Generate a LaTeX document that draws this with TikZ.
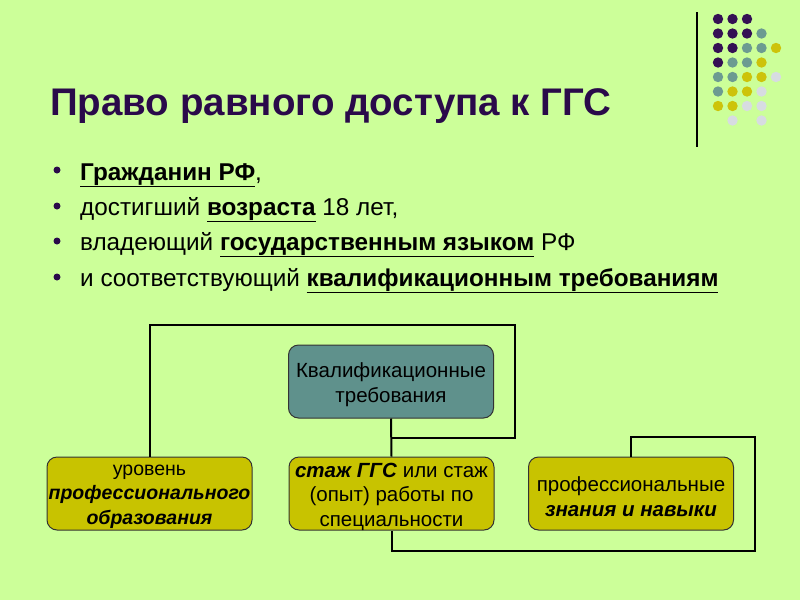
\documentclass[tikz,border=0pt]{standalone}
\usepackage{fontspec}
\setmainfont{Liberation Sans}
\begin{document}
\begin{tikzpicture}[x=1pt,y=-1pt,
  every node/.style={inner sep=0pt},
  conn/.style={draw=black,line width=2pt},
  ybox/.style={draw=black!80,line width=1pt,rounded corners=10pt,fill=boxyellow,
     minimum width=205pt,minimum height=73pt},
  tbox/.style={ybox,fill=boxteal},
  btext/.style={align=center,font=\fontsize{20.5}{25}\selectfont},
  bul/.style={circle,fill=titlec,minimum size=7pt},
  btxt/.style={anchor=base west,font=\fontsize{24.3}{28}\selectfont}
]
\definecolor{bgc}{RGB}{204,255,153}
\definecolor{titlec}{RGB}{42,10,74}
\definecolor{boxyellow}{RGB}{200,195,0}
\definecolor{boxteal}{RGB}{95,145,140}
\definecolor{dP}{RGB}{52,16,84}
\definecolor{dT}{RGB}{108,155,145}
\definecolor{dY}{RGB}{205,195,10}
\definecolor{dL}{RGB}{215,220,225}
\fill[bgc] (0,0) rectangle (800,600);
\useasboundingbox (0,0) rectangle (800,600);
% decoration
\draw[line width=1.2pt] (697,12) -- (697,147);
\foreach \c/\r/\col in {0/0/dP,1/0/dP,2/0/dP,
  0/1/dP,1/1/dP,2/1/dP,3/1/dT,
  0/2/dP,1/2/dP,2/2/dT,3/2/dT,4/2/dY,
  0/3/dP,1/3/dT,2/3/dT,3/3/dY,
  0/4/dT,1/4/dT,2/4/dY,3/4/dY,4/4/dL,
  0/5/dT,1/5/dY,2/5/dY,3/5/dL,
  0/6/dY,1/6/dY,2/6/dL,3/6/dL,
  1/7/dL,3/7/dL}
  \fill[\col] ({718+14.5*\c},{19+14.5*\r}) circle (5.2);
% title
\node[anchor=base west,text=titlec,font=\fontsize{38.5}{42}\selectfont\bfseries] (title) at (50,115) {Право равного доступа к ГГС};
% bullets
\node[bul] (b1) at (57,170) {};
\node[bul] (b2) at (57,206) {};
\node[bul] (b3) at (57,241) {};
\node[bul] (b4) at (57,277) {};
\node[btxt] (t1) at (80,180) {\underline{\textbf{Гражданин РФ}},};
\node[btxt] (t2) at (80,215) {достигший \underline{\textbf{возраста}} 18 лет,};
\node[btxt] (t3) at (80,250) {владеющий \underline{\textbf{государственным языком}} РФ};
\node[btxt] (t4) at (80,286) {и соответствующий \underline{\textbf{квалификационным требованиям}}};
% boxes
\node[tbox] (qual) at (391,381.5) {};
\node[ybox] (edu) at (149.5,493.5) {};
\node[ybox] (stazh) at (391.5,493.5) {};
\node[ybox] (prof) at (631,493.5) {};
% box texts
\node[btext] (qualT) at ([yshift=-3pt]qual.center) {Квалификационные\\требования};
\node[btext,font=\fontsize{19.5}{24.5}\selectfont] (eduT) at ([yshift=-3pt]edu.center) {уровень\\\textbf{\textit{профессионального}}\\\textbf{\textit{образования}}};
\node[btext,font=\fontsize{20.5}{24.5}\selectfont] (stazhT) at ([yshift=-3pt]stazh.center) {\textbf{\textit{стаж ГГС}} или стаж\\(опыт) работы по\\специальности};
\node[btext] (profT) at ([yshift=-3pt]prof.center) {профессиональные\\\textbf{\textit{знания и навыки}}};
% connectors
\coordinate (c1) at (515,325);
\coordinate (c2) at (515,438);
\coordinate (c3) at (755,437);
\coordinate (c4) at (755,551);
\draw[conn] (edu.north) |- (c1) -- (c2) -- (c2 -| stazh.north);
\draw[conn] (qual.south) -- (stazh.north);
\draw[conn] (prof.north) |- (c3) -- (c4) -| (stazh.south);
\end{tikzpicture}
\end{document}
